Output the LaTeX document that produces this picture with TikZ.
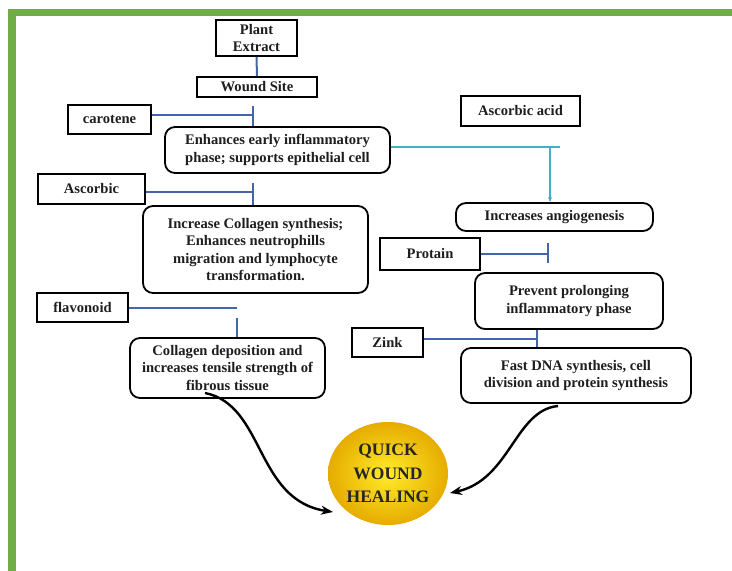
\documentclass[tikz,border=0pt]{standalone}
\usepackage{fontspec}
\setmainfont{Liberation Serif}
\usetikzlibrary{arrows.meta,shapes.geometric}
\definecolor{framegreen}{HTML}{70AD47}
\definecolor{connblue}{HTML}{4466A8}
\definecolor{lightconn}{HTML}{4BACC6}
\definecolor{goldin}{HTML}{FFEC2A}
\definecolor{goldout}{HTML}{E6AC00}
\definecolor{txt}{HTML}{1E1E1E}
\tikzset{
  base/.style={draw=black, line width=1.8pt, fill=white, inner sep=0pt, align=center,
    text=txt, font=\fontsize{14.6}{17.5}\selectfont\bfseries},
  inbox/.style={base},
  effbox/.style={base, rounded corners=10pt},
  conn/.style={draw=connblue, line width=2pt},
  lconn/.style={draw=lightconn, line width=1.4pt},
  curvearrow/.style={draw=black, line width=2.4pt, -{Stealth[length=12pt,width=9pt]}},
}
\begin{document}
\begin{tikzpicture}[x=1pt,y=-1pt]
\useasboundingbox (0,0) rectangle (732,571);
\fill[white] (0,0) rectangle (732,571);
% frame
\fill[framegreen] (8,9) rectangle (732,16);
\fill[framegreen] (8,9) rectangle (16,571);

% input boxes
\node[inbox, minimum width=81pt, minimum height=36pt] (pe) at (256.5,38) {Plant\\Extract};
\node[inbox, minimum width=120pt, minimum height=20pt] (ws) at (257,87) {Wound Site};
\node[inbox, minimum width=83pt, minimum height=29pt] (car) at (109.5,119.5) {carotene};
\node[inbox, minimum width=107pt, minimum height=30pt] (asc) at (91.5,189) {Ascorbic};
\node[inbox, minimum width=91pt, minimum height=29pt] (flav) at (82.5,307.5) {flavonoid};
\node[inbox, minimum width=119pt, minimum height=30pt] (aa) at (520.5,111) {Ascorbic acid};
\node[inbox, minimum width=100pt, minimum height=32pt] (prot) at (430,254) {Protain};
\node[inbox, minimum width=71pt, minimum height=29pt] (zink) at (387.5,342.5) {Zink};

% effect boxes
\node[effbox, minimum width=225pt, minimum height=46pt] (enh) at (277.5,150)
  {Enhances early inflammatory\\phase; supports epithelial cell};
\node[effbox, minimum width=225pt, minimum height=87pt] (icol) at (255.5,249.5)
  {Increase Collagen synthesis;\\Enhances neutrophills\\migration and lymphocyte\\transformation.};
\node[effbox, minimum width=195pt, minimum height=60pt] (cdep) at (227.5,368)
  {Collagen deposition and\\increases tensile strength of\\fibrous tissue};
\node[effbox, minimum width=197pt, minimum height=28pt] (ang) at (554.5,217) {Increases angiogenesis};
\node[effbox, minimum width=188pt, minimum height=56pt] (prev) at (569,301) {Prevent prolonging\\inflammatory phase};
\node[effbox, minimum width=230pt, minimum height=55pt] (fast) at (576,375.5)
  {Fast DNA synthesis, cell\\division and protein synthesis};

% final node
\node[ellipse, minimum width=120pt, minimum height=103pt, inner sep=0pt,
  shading=radial, inner color=goldin, outer color=goldout, align=center,
  text=black!85, font=\fontsize{17.5}{23.5}\selectfont\bfseries] (qwh) at (388,473.5)
  {QUICK\\WOUND\\HEALING};

% junction coordinates
\coordinate (j1) at (253,115);  \coordinate (b1) at (253,106);
\coordinate (j2) at (253,192); \coordinate (b2) at (253,183);
\coordinate (j3) at (237,308);  \coordinate (b3) at (237,318);
\coordinate (j4) at (548,254); \coordinate (b4a) at (548,243); \coordinate (b4b) at (548,263);
\coordinate (j5) at (537,339);
\coordinate (la) at (560,147);  \coordinate (lb) at (550,147);
\coordinate (lt) at (333,512);  \coordinate (rt) at (450,493);
\coordinate (ls) at (205,393);  \coordinate (rs) at (558,406);

% connectors
\draw[conn] (pe.south) -- (ws.north);
\draw[conn] (car.east |- j1) -- (j1);
\draw[conn] (b1) -- (b1 |- enh.north);
\draw[conn] (asc.east |- j2) -- (j2);
\draw[conn] (b2) -- (b2 |- icol.north);
\draw[conn] (flav.east |- j3) -- (j3);
\draw[conn] (b3) -- (b3 |- cdep.north);
\draw[conn] (prot.east |- j4) -- (j4);
\draw[conn] (b4a) -- (b4b);
\draw[conn] (zink.east |- j5) -- (j5);
\draw[conn] (j5 |- prev.south) -- (j5 |- fast.north);
\draw[lconn] (enh.east |- la) -- (la);
\draw[lconn, -{Stealth[length=5pt,width=4pt]}] (lb) -- (lb |- ang.north);

% curved arrows
\draw[curvearrow] (ls) .. controls (265,405) and (255,500) .. (lt);
\draw[curvearrow] (rs) .. controls (515,410) and (510,480) .. (rt);
\end{tikzpicture}
\end{document}
